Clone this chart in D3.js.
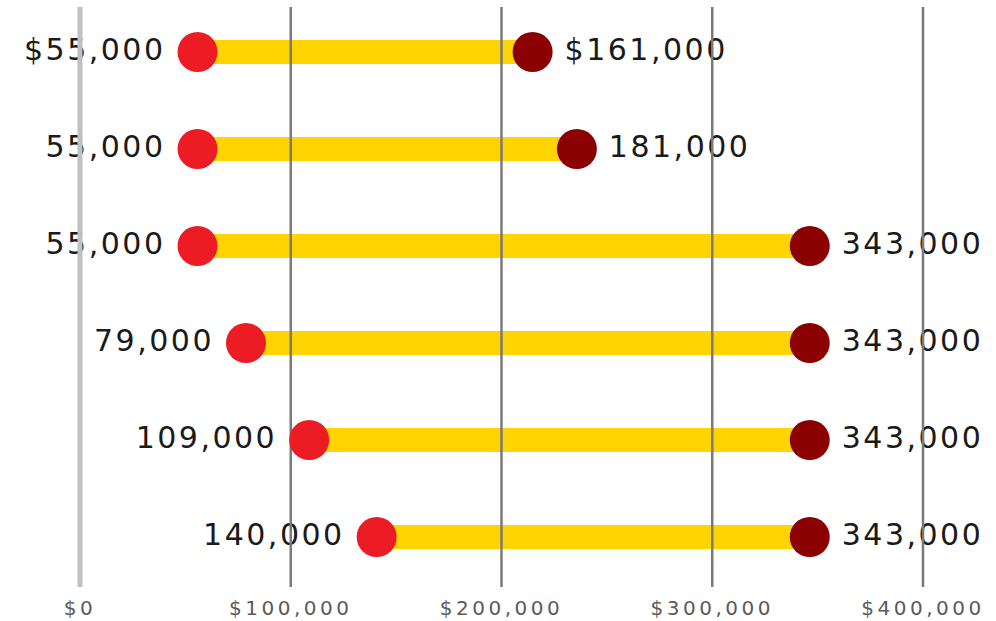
<!DOCTYPE html>
<meta charset="utf-8">
<style>
body { margin: 0; background: #fff; }
.lbl { font-family: "DejaVu Sans", sans-serif; font-size: 30px; fill: #1a1a1a; letter-spacing: 2.5px; }
</style>
<body>
<script src="https://cdn.jsdelivr.net/npm/d3@7"></script>
<script>

// dot positions as drawn (in dollars)
var startPos = [56000, 56000, 56000, 79000, 109000, 141000];
var endPos   = [215000, 236000, 346500, 346500, 346500, 346500];

// text printed next to the dots
var startLabels = ["$55,000", "55,000", "55,000", "79,000", "109,000", "140,000"];
var endLabels   = ["$161,000", "181,000", "343,000", "343,000", "343,000", "343,000"];

var tickValues = [0, 100000, 200000, 300000, 400000];
var tickLabels = ["$0", "$100,000", "$200,000", "$300,000", "$400,000"];

var width = 996, height = 621, r = 20;
var rows = d3.range(startPos.length);

var x = d3.scaleLinear().domain([0, 400000]).range([79.5, 922.5]);
var y = d3.scalePoint().domain(rows).range([52, 537]);

var svg = d3.select("body").append("svg")
    .attr("width", width)
    .attr("height", height);

// yellow bars
svg.append("g").selectAll("line")
    .data(rows)
  .enter().append("line")
    .attr("x1", function(i) { return x(startPos[i]); })
    .attr("x2", function(i) { return x(endPos[i]); })
    .attr("y1", function(i) { return y(i); })
    .attr("y2", function(i) { return y(i); })
    .attr("stroke", "#ffd400")
    .attr("stroke-width", 24);

// value labels
svg.append("g").selectAll("text")
    .data(rows)
  .enter().append("text")
    .attr("class", "lbl")
    .attr("x", function(i) { return x(startPos[i]) - r - 12; })
    .attr("y", function(i) { return y(i) + 8; })
    .attr("text-anchor", "end")
    .text(function(i) { return startLabels[i]; });

svg.append("g").selectAll("text")
    .data(rows)
  .enter().append("text")
    .attr("class", "lbl")
    .attr("x", function(i) { return x(endPos[i]) + r + 12; })
    .attr("y", function(i) { return y(i) + 8; })
    .attr("text-anchor", "start")
    .text(function(i) { return endLabels[i]; });

// axis + gridlines (drawn over bars and text)
var axis = svg.append("g")
    .attr("transform", "translate(0,587)")
    .call(d3.axisBottom(x)
        .tickValues(tickValues)
        .tickFormat(function(d, i) { return tickLabels[i]; })
        .tickSize(-580)
        .tickPadding(14));

axis.select(".domain").remove();
axis.selectAll(".tick line")
    .attr("stroke", function(d) { return d === 0 ? "#c0c0c0" : "#7a7a7a"; })
    .attr("stroke-width", function(d) { return d === 0 ? 5 : 2.5; });
axis.selectAll(".tick text")
    .attr("fill", "#5a5a5a")
    .style("font-family", "'DejaVu Sans', sans-serif")
    .style("font-size", "20px")
    .style("letter-spacing", "3.5px");

// dots
svg.append("g").selectAll("circle")
    .data(rows)
  .enter().append("circle")
    .attr("cx", function(i) { return x(startPos[i]); })
    .attr("cy", function(i) { return y(i); })
    .attr("r", r)
    .attr("fill", "#ed1c24");

svg.append("g").selectAll("circle")
    .data(rows)
  .enter().append("circle")
    .attr("cx", function(i) { return x(endPos[i]); })
    .attr("cy", function(i) { return y(i); })
    .attr("r", r)
    .attr("fill", "#8b0000");

</script>
</body>
